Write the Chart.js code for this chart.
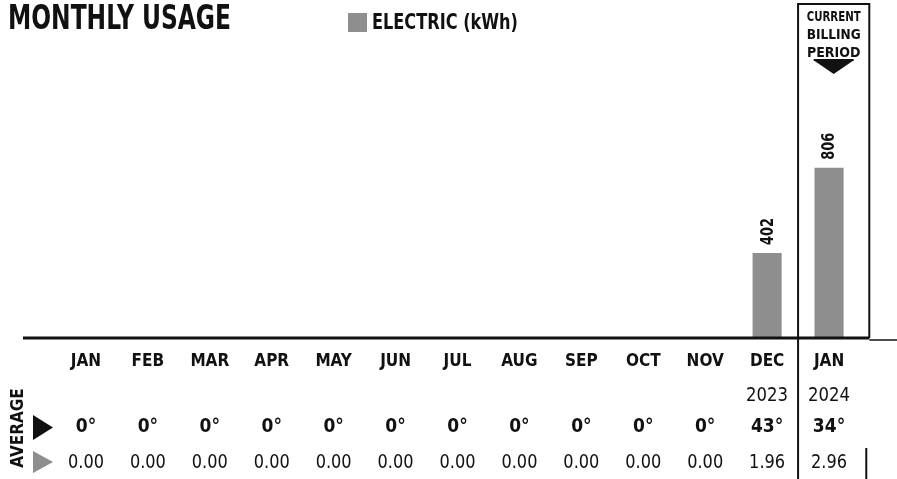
<!DOCTYPE html>
<html>
<head>
<meta charset="utf-8">
<script src="https://cdn.jsdelivr.net/npm/chart.js@4.4.1/dist/chart.umd.min.js"></script>
<style>
  html, body { margin: 0; padding: 0; background: #fff; }
</style>
</head>
<body>
<canvas id="usageChart" width="897" height="479"></canvas>
<script>
// chart data
const months = ['JAN', 'FEB', 'MAR', 'APR', 'MAY', 'JUN', 'JUL', 'AUG', 'SEP', 'OCT', 'NOV', 'DEC', 'JAN'];
const years = ['', '', '', '', '', '', '', '', '', '', '', '2023', '2024'];
const usageKwh = [0, 0, 0, 0, 0, 0, 0, 0, 0, 0, 0, 402, 806];
const avgTemps = [0, 0, 0, 0, 0, 0, 0, 0, 0, 0, 0, 43, 34];
const avgDailyKwh = ['0.00', '0.00', '0.00', '0.00', '0.00', '0.00', '0.00', '0.00', '0.00', '0.00', '0.00', '1.96', '2.96'];
const titleText = 'MONTHLY USAGE';
const seriesLabel = 'ELECTRIC (kWh)';
const billingLines = ['CURRENT', 'BILLING', 'PERIOD'];
const averageLabel = 'AVERAGE';

const NARROW = '"Liberation Sans Narrow", "DejaVu Sans Condensed", "Arial Narrow", sans-serif';
const BAR_GRAY = '#8e8e8e';
const INK = '#111';

const decorPlugin = {
  id: 'usageDecor',
  afterDraw(chart) {
    const ctx = chart.ctx;
    const x = chart.scales.x;
    const y = chart.scales.y;
    const base = y.getPixelForValue(0);
    const boxLeft = x.getPixelForValue(11.5);
    const boxRight = x.getPixelForValue(12.65);
    const boxMid = (boxLeft + boxRight) / 2;

    ctx.save();
    ctx.strokeStyle = INK;
    ctx.fillStyle = INK;

    // baseline
    ctx.lineWidth = 3;
    ctx.beginPath();
    ctx.moveTo(23, base);
    ctx.lineTo(boxRight, base);
    ctx.stroke();
    ctx.lineWidth = 1.5;
    ctx.beginPath();
    ctx.moveTo(boxRight, base + 2);
    ctx.lineTo(897, base + 2);
    ctx.stroke();

    // current billing period box
    ctx.lineWidth = 2;
    ctx.beginPath();
    ctx.moveTo(boxLeft, 479);
    ctx.lineTo(boxLeft, 4);
    ctx.lineTo(boxRight, 4);
    ctx.lineTo(boxRight, base);
    ctx.moveTo(boxRight - 3, 448);
    ctx.lineTo(boxRight - 3, 479);
    ctx.stroke();

    ctx.textAlign = 'center';
    ctx.textBaseline = 'middle';
    ctx.font = 'bold 14px ' + NARROW;
    [17, 35, 53].forEach((ty, i) => ctx.fillText(billingLines[i], boxMid, ty, 54));
    ctx.fillRect(boxMid - 20, 59, 40, 2);
    ctx.beginPath();
    ctx.moveTo(boxMid - 19, 61);
    ctx.lineTo(boxMid + 19, 61);
    ctx.lineTo(boxMid, 74);
    ctx.closePath();
    ctx.fill();

    // title
    ctx.textAlign = 'left';
    ctx.font = 'bold 33px "DejaVu Sans Condensed", ' + NARROW;
    ctx.fillText(titleText, 8, 20, 223);

    // legend
    const ds = chart.data.datasets[0];
    ctx.fillStyle = ds.backgroundColor;
    ctx.fillRect(348, 13, 19, 19);
    ctx.fillStyle = INK;
    ctx.font = 'bold 22px ' + NARROW;
    ctx.fillText(ds.label, 372, 23, 146);

    // bar values
    const meta = chart.getDatasetMeta(0);
    ctx.font = 'bold 17px ' + NARROW;
    meta.data.forEach((bar, i) => {
      if (!usageKwh[i]) return;
      ctx.save();
      ctx.translate(bar.x + 1, bar.y - 8);
      ctx.rotate(-Math.PI / 2);
      ctx.textAlign = 'left';
      ctx.textBaseline = 'middle';
      ctx.fillText(String(usageKwh[i]), 0, 0, 27);
      ctx.restore();
    });

    // average table
    ctx.textAlign = 'center';
    months.forEach((m, i) => {
      const cx = x.getPixelForValue(i);
      ctx.font = '19px ' + NARROW;
      if (years[i]) ctx.fillText(years[i], cx, 396, 42);
      ctx.font = 'bold 19px ' + NARROW;
      ctx.fillText(avgTemps[i] + '°', cx, 427);
      ctx.font = '19px ' + NARROW;
      ctx.fillText(avgDailyKwh[i], cx, 463, 36);
    });

    ctx.save();
    ctx.translate(19, 428);
    ctx.rotate(-Math.PI / 2);
    ctx.font = 'bold 17px ' + NARROW;
    ctx.fillText(averageLabel, 0, 0, 80);
    ctx.restore();

    ctx.beginPath();
    ctx.moveTo(33, 415);
    ctx.lineTo(33, 440);
    ctx.lineTo(53, 427.5);
    ctx.closePath();
    ctx.fill();
    ctx.fillStyle = BAR_GRAY;
    ctx.beginPath();
    ctx.moveTo(33, 451);
    ctx.lineTo(33, 473);
    ctx.lineTo(53, 462);
    ctx.closePath();
    ctx.fill();

    ctx.restore();
  }
};

new Chart(document.getElementById('usageChart'), {
  type: 'bar',
  data: {
    labels: months,
    datasets: [{
      label: seriesLabel,
      data: usageKwh,
      backgroundColor: BAR_GRAY,
      barPercentage: 0.47,
      categoryPercentage: 1,
    }],
  },
  options: {
    responsive: false,
    animation: false,
    devicePixelRatio: 1,
    layout: { padding: { left: 55, right: 37, top: 0, bottom: 0 } },
    plugins: {
      legend: { display: false },
      title: { display: false },
      tooltip: { enabled: false },
    },
    scales: {
      x: {
        grid: { display: false, drawTicks: false },
        border: { display: false },
        ticks: {
          color: INK,
          font: { family: NARROW, size: 17, weight: 'bold' },
          padding: 13,
          maxRotation: 0,
          autoSkip: false,
        },
        afterFit(scale) { scale.height = 141; },
      },
      y: { display: false, min: 0, max: 1600 },
    },
  },
  plugins: [decorPlugin],
});
</script>
</body>
</html>
